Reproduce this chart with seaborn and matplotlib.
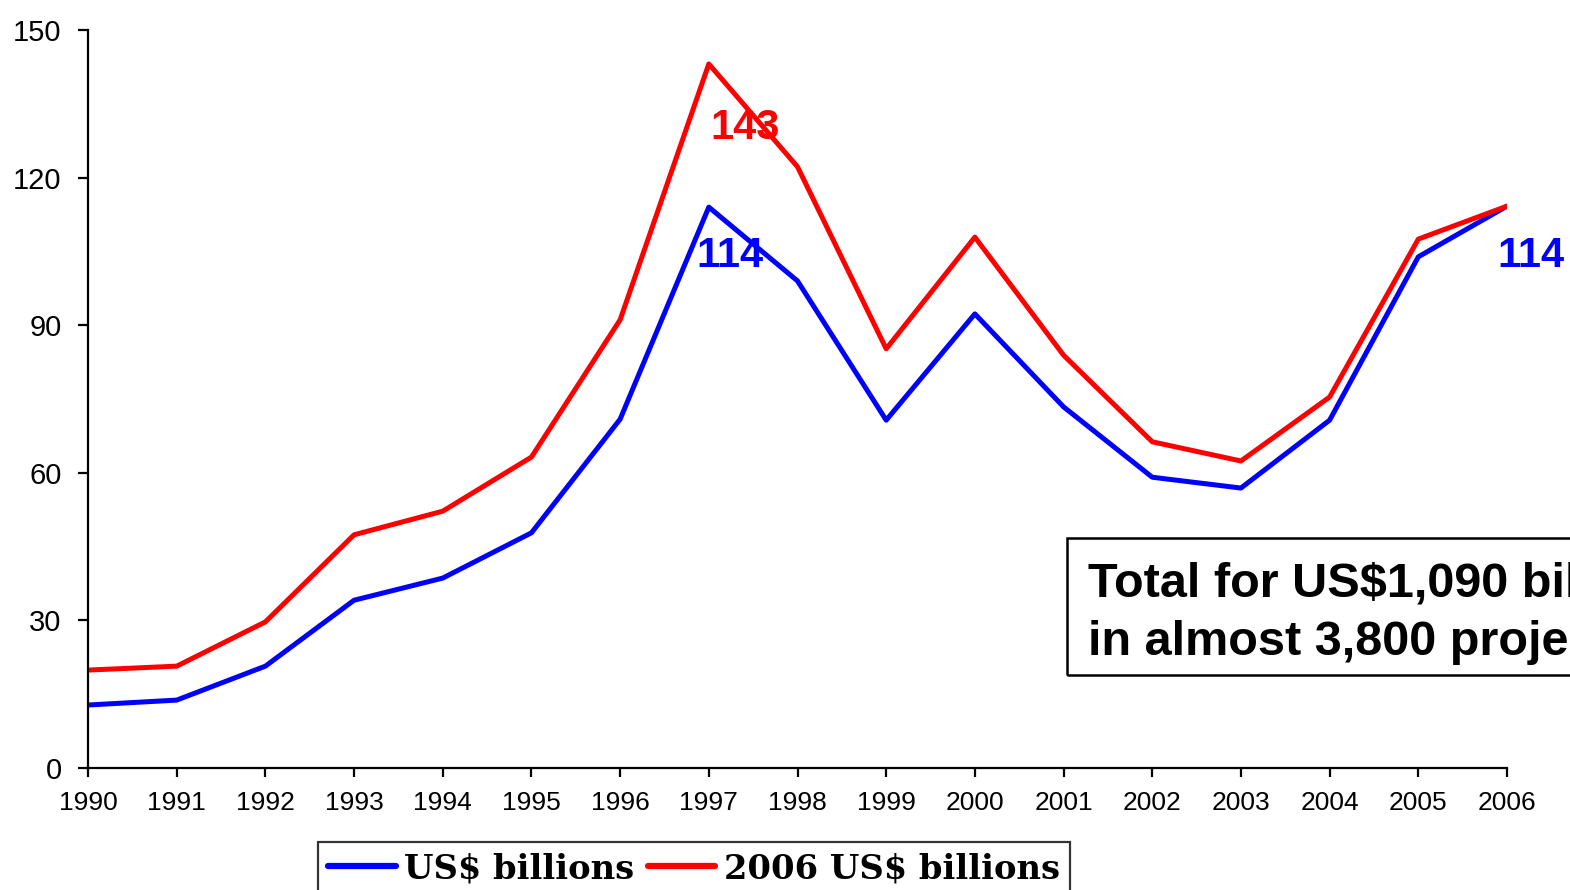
import numpy as np
import pandas as pd
import matplotlib
matplotlib.use("Agg")
import matplotlib.pyplot as plt
from matplotlib.patches import Rectangle
import seaborn as sns

years = list(range(1990, 2007))
nominal = [12.8, 13.8, 20.7, 34.1, 38.6, 47.8, 70.9, 114.0, 99.0, 70.7, 92.3, 73.4, 59.1, 56.9, 70.7, 103.9, 114.2]
real_2006 = [19.9, 20.7, 29.7, 47.4, 52.2, 63.2, 91.1, 143.1, 122.2, 85.2, 107.9, 83.9, 66.3, 62.4, 75.4, 107.5, 114.2]
series_names = [r"US\$ billions", r"2006 US\$ billions"]
y_ticks = [0, 30, 60, 90, 120, 150]

df = pd.DataFrame({
    "year": years * 2,
    "value": nominal + real_2006,
    "series": [series_names[0]] * len(years) + [series_names[1]] * len(years),
})

sns.set_style("ticks")
plt.rcParams["font.family"] = ["Liberation Sans", "DejaVu Sans"]
plt.rcParams["text.color"] = "black"

W, H = 1570, 890
fig = plt.figure(figsize=(W / 100, H / 100), dpi=100)
ax = fig.add_axes([88 / W, 1 - 768 / H, (1507 - 88) / W, (768 - 30) / H])

sns.lineplot(data=df, x="year", y="value", hue="series",
             palette={series_names[0]: "#0000FF", series_names[1]: "#FF0000"},
             linewidth=3.6, ax=ax, legend=True)
handles, labels = ax.get_legend_handles_labels()
ax.get_legend().remove()

ax.set_xlim(1990, 2006)
ax.set_ylim(0, 150)
ax.set_xticks(years)
ax.set_xticklabels([str(y) for y in years])
ax.set_yticks(y_ticks)
ax.set_xlabel("")
ax.set_ylabel("")
for s in ["top", "right"]:
    ax.spines[s].set_visible(False)
for s in ["left", "bottom"]:
    ax.spines[s].set_linewidth(1.6)
    ax.spines[s].set_color("black")
ax.tick_params(axis="y", direction="out", length=7, width=1.6, pad=12, labelsize=21, colors="black")
ax.tick_params(axis="x", direction="out", length=6.5, width=1.6, pad=10, labelsize=19, colors="black")

# value labels
ax.text(1997.41, 130, "143", color="#FF0000", fontsize=30, fontweight="bold",
        ha="center", va="center", clip_on=False)
ax.text(1997.24, 104, "114", color="#0000FF", fontsize=30, fontweight="bold",
        ha="center", va="center", clip_on=False)
ax.text(2006.27, 104, "114", color="#0000FF", fontsize=30, fontweight="bold",
        ha="center", va="center", clip_on=False)

# total box (extends past the right edge, as in the original)
fig.add_artist(Rectangle((1067 / W, 1 - 675 / H), 700 / W, 137 / H,
                         transform=fig.transFigure, fill=False, edgecolor="black", linewidth=1.8))
fig.text(1088 / W, 1 - 597 / H, r"Total for US\$1,090 billion", fontsize=35, fontweight="bold",
         ha="left", va="baseline", color="black")
fig.text(1088 / W, 1 - 655 / H, "in almost 3,800 projects", fontsize=35, fontweight="bold",
         ha="left", va="baseline", color="black")

leg = fig.legend(handles, labels, loc="upper left", bbox_to_anchor=(318 / W, 1 - 842 / H),
                 ncol=2, frameon=True, fancybox=False, edgecolor="black",
                 prop={"family": "DejaVu Serif", "weight": "bold", "size": 24.3},
                 handlelength=2.0, handletextpad=0.25, columnspacing=0.4,
                 borderpad=0.3, borderaxespad=0)
leg.get_frame().set_linewidth(1.6)
for t in leg.get_texts():
    t.set_color("black")
for lh in leg.get_lines():
    lh.set_linewidth(4.5)

fig.savefig("out.png", dpi=100)
